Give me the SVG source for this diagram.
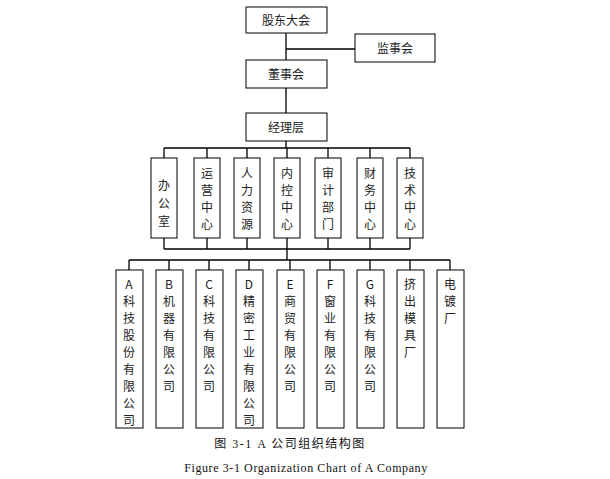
<svg xmlns="http://www.w3.org/2000/svg" width="610" height="479" viewBox="0 0 610 479">
<style>
.b{fill:#fff;stroke:#000;stroke-width:1}
.t{font-family:"Noto Sans CJK SC","Liberation Serif",serif;font-size:12px;fill:#222;text-anchor:middle}
.l{stroke:#000;stroke-width:1.3;fill:none}
.cap{font-family:"Liberation Serif","Noto Sans CJK SC",serif;font-size:12px;text-anchor:middle;fill:#111}
</style>
<rect width="610" height="479" fill="#fff"/>
<g id="connectors">
<path class="l" d="M286 33V113M286 49H355M286 141V148M164 148H410M164 148V158M207 148V158M247 148V158M287 148V158M328 148V158M370 148V158M410 148V158M164 238V249M207 238V249M247 238V249M287 238V249M328 238V249M370 238V249M410 238V249M164 249H410M287 249V260M129 260H450M129 260V270M169 260V270M209 260V270M249 260V270M290 260V270M330 260V270M370 260V270M410 260V270M450 260V270"/>
</g>
<g id="n1"><rect class="b" x="246" y="7" width="81" height="26"/><text class="t" x="286" y="25" font-size="13">股东大会</text></g>
<g id="n2"><rect class="b" x="355" y="34" width="80" height="28"/><text class="t" x="395" y="53" font-size="13">监事会</text></g>
<g id="n3"><rect class="b" x="246" y="60" width="81" height="28"/><text class="t" x="286" y="79" font-size="13">董事会</text></g>
<g id="n4"><rect class="b" x="246" y="113" width="81" height="28"/><text class="t" x="286" y="132" font-size="13">经理层</text></g>
<g id="d1"><rect class="b" x="151" y="158" width="26" height="80" stroke-width="1.5"/><text class="t" x="164" y="190">办</text><text class="t" x="164" y="208">公</text><text class="t" x="164" y="226">室</text></g>
<g id="d2"><rect class="b" x="194" y="158" width="26" height="80"/><text class="t" x="207" y="178">运</text><text class="t" x="207" y="195">营</text><text class="t" x="207" y="212">中</text><text class="t" x="207" y="229">心</text></g>
<g id="d3"><rect class="b" x="234" y="158" width="26" height="80"/><text class="t" x="247" y="178">人</text><text class="t" x="247" y="195">力</text><text class="t" x="247" y="212">资</text><text class="t" x="247" y="229">源</text></g>
<g id="d4"><rect class="b" x="274" y="158" width="26" height="80"/><text class="t" x="287" y="178">内</text><text class="t" x="287" y="195">控</text><text class="t" x="287" y="212">中</text><text class="t" x="287" y="229">心</text></g>
<g id="d5"><rect class="b" x="315" y="158" width="26" height="80"/><text class="t" x="328" y="178">审</text><text class="t" x="328" y="195">计</text><text class="t" x="328" y="212">部</text><text class="t" x="328" y="229">门</text></g>
<g id="d6"><rect class="b" x="357" y="158" width="26" height="80"/><text class="t" x="370" y="178">财</text><text class="t" x="370" y="195">务</text><text class="t" x="370" y="212">中</text><text class="t" x="370" y="229">心</text></g>
<g id="d7"><rect class="b" x="397" y="158" width="26" height="80"/><text class="t" x="410" y="178">技</text><text class="t" x="410" y="195">术</text><text class="t" x="410" y="212">中</text><text class="t" x="410" y="229">心</text></g>
<g id="c1"><rect class="b" x="116" y="270" width="27" height="158"/><text class="t" x="129" y="289">A</text><text class="t" x="129" y="306">科</text><text class="t" x="129" y="323">技</text><text class="t" x="129" y="340">股</text><text class="t" x="129" y="357">份</text><text class="t" x="129" y="374">有</text><text class="t" x="129" y="391">限</text><text class="t" x="129" y="408">公</text><text class="t" x="129" y="425">司</text></g>
<g id="c2"><rect class="b" x="156" y="270" width="27" height="158"/><text class="t" x="169" y="289">B</text><text class="t" x="169" y="306">机</text><text class="t" x="169" y="323">器</text><text class="t" x="169" y="340">有</text><text class="t" x="169" y="357">限</text><text class="t" x="169" y="374">公</text><text class="t" x="169" y="391">司</text></g>
<g id="c3"><rect class="b" x="196" y="270" width="27" height="158"/><text class="t" x="209" y="289">C</text><text class="t" x="209" y="306">科</text><text class="t" x="209" y="323">技</text><text class="t" x="209" y="340">有</text><text class="t" x="209" y="357">限</text><text class="t" x="209" y="374">公</text><text class="t" x="209" y="391">司</text></g>
<g id="c4"><rect class="b" x="236" y="270" width="27" height="158"/><text class="t" x="249" y="289">D</text><text class="t" x="249" y="306">精</text><text class="t" x="249" y="323">密</text><text class="t" x="249" y="340">工</text><text class="t" x="249" y="357">业</text><text class="t" x="249" y="374">有</text><text class="t" x="249" y="391">限</text><text class="t" x="249" y="408">公</text><text class="t" x="249" y="425">司</text></g>
<g id="c5"><rect class="b" x="277" y="270" width="27" height="158"/><text class="t" x="290" y="289">E</text><text class="t" x="290" y="306">商</text><text class="t" x="290" y="323">贸</text><text class="t" x="290" y="340">有</text><text class="t" x="290" y="357">限</text><text class="t" x="290" y="374">公</text><text class="t" x="290" y="391">司</text></g>
<g id="c6"><rect class="b" x="317" y="270" width="27" height="158"/><text class="t" x="330" y="289">F</text><text class="t" x="330" y="306">窗</text><text class="t" x="330" y="323">业</text><text class="t" x="330" y="340">有</text><text class="t" x="330" y="357">限</text><text class="t" x="330" y="374">公</text><text class="t" x="330" y="391">司</text></g>
<g id="c7"><rect class="b" x="357" y="270" width="27" height="158"/><text class="t" x="370" y="289">G</text><text class="t" x="370" y="306">科</text><text class="t" x="370" y="323">技</text><text class="t" x="370" y="340">有</text><text class="t" x="370" y="357">限</text><text class="t" x="370" y="374">公</text><text class="t" x="370" y="391">司</text></g>
<g id="c8"><rect class="b" x="397" y="270" width="27" height="158"/><text class="t" x="410" y="289">挤</text><text class="t" x="410" y="306">出</text><text class="t" x="410" y="323">模</text><text class="t" x="410" y="340">具</text><text class="t" x="410" y="357">厂</text></g>
<g id="c9"><rect class="b" x="437" y="270" width="27" height="158"/><text class="t" x="450" y="289">电</text><text class="t" x="450" y="306">镀</text><text class="t" x="450" y="323">厂</text></g>
<text class="cap" x="290" y="448" font-size="11" letter-spacing="1.5">图 3-1 A 公司组织结构图</text>
<text class="cap" x="306" y="472" font-size="13" letter-spacing="0.6">Figure 3-1 Organization Chart of A Company</text>
</svg>
